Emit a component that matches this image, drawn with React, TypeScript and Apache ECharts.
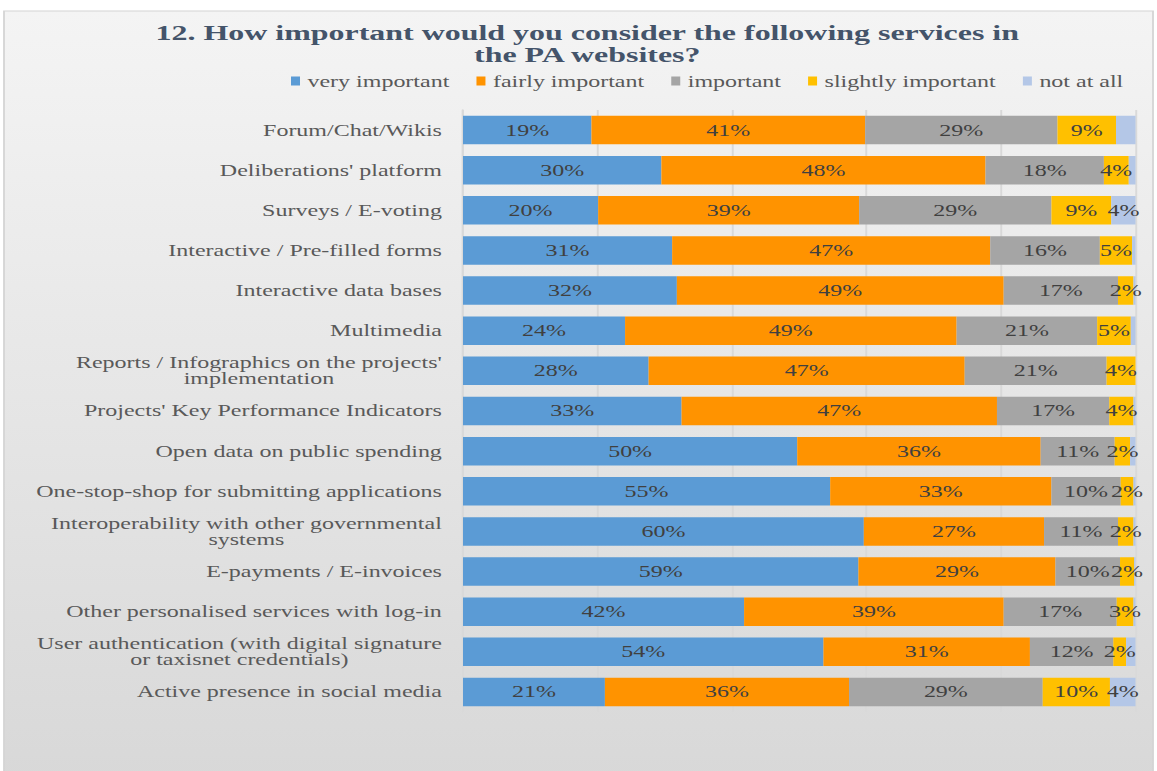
import React, { useEffect, useRef } from "react";
import * as echarts from "echarts";

const titleText = "12. How important would you consider the following services in\nthe PA websites?";

const categories = [
  "Forum/Chat/Wikis",
  "Deliberations' platform",
  "Surveys / E-voting",
  "Interactive / Pre-filled forms",
  "Interactive data bases",
  "Multimedia",
  "Reports / Infographics on the projects'\nimplementation",
  "Projects' Key Performance Indicators",
  "Open data on public spending",
  "One-stop-shop for submitting applications",
  "Interoperability with other governmental\nsystems",
  "E-payments / E-invoices",
  "Other personalised services with log-in",
  "User authentication (with digital signature\nor taxisnet credentials)",
  "Active presence in social media",
];

const seriesNames = ["very important", "fairly important", "important", "slightly important", "not at all"];

const veryImportant = [19.1, 29.5, 20.1, 31.1, 31.8, 24.1, 27.6, 32.5, 49.7, 54.6, 59.6, 58.8, 41.8, 53.6, 21.1];
const fairlyImportant = [40.7, 48.2, 38.8, 47.3, 48.6, 49.3, 47.0, 46.9, 36.2, 32.9, 26.8, 29.3, 38.6, 30.7, 36.3];
const important = [28.6, 17.6, 28.6, 16.3, 17.0, 20.9, 21.1, 16.7, 11.0, 10.3, 11.0, 9.6, 16.8, 12.4, 28.8];
const slightlyImportant = [8.7, 3.7, 8.9, 4.8, 2.3, 5.0, 4.3, 3.6, 2.3, 1.9, 2.3, 2.1, 2.5, 1.9, 10.0];
const notAtAll = [2.9, 1.0, 3.7, 0.5, 0.3, 0.7, 0.0, 0.3, 0.8, 0.3, 0.3, 0.2, 0.3, 1.4, 3.8];

const colors = ["#5B9BD5", "#FF9300", "#A5A5A5", "#FFC000", "#B4C7E7"];

const S = 1.5;
const W = 1157 / S;
const H = 771;
const FONT = '"Liberation Serif", "Times New Roman", serif';

export default function App() {
  const ref = useRef<HTMLDivElement>(null);

  useEffect(() => {
    if (!ref.current) return;
    const chart = echarts.init(ref.current, null, { renderer: "svg" });
    const allData = [veryImportant, fairlyImportant, important, slightlyImportant, notAtAll];

    const series = allData.map((d, i) => ({
      name: seriesNames[i],
      type: "bar",
      stack: "total",
      barCategoryGap: "29%",
      data: d,
      itemStyle: { color: colors[i] },
      label: {
        show: true,
        position: "inside",
        color: "#404040",
        fontFamily: FONT,
        fontSize: 16,
        formatter: (p: any) => {
          const v = p.value as number;
          if (i === 4 && v < 3.5) return "";
          if (v <= 0) return "";
          return Math.round(v) + "%";
        },
      },
    }));

    chart.setOption({
      animation: false,
      backgroundColor: "#ffffff",
      graphic: [
        {
          type: "rect",
          z: -10,
          silent: true,
          shape: { x: 4 / S, y: 11, width: (1153 - 4) / S, height: 770 },
          style: {
            fill: {
              type: "linear",
              x: 0,
              y: 0,
              x2: 0,
              y2: 1,
              colorStops: [
                { offset: 0, color: "#f4f4f4" },
                { offset: 1, color: "#d8d8d8" },
              ],
            },
            stroke: "#d4d4d4",
            lineWidth: 1.2,
          },
        },
        {
          type: "text",
          x: 391.5,
          y: 22,
          style: {
            text: titleText,
            fill: "#44546A",
            fontFamily: FONT,
            fontWeight: "bold",
            fontSize: 21.3,
            lineHeight: 22,
            align: "center",
            verticalAlign: "top",
          },
        },
      ],
      legend: {
        data: seriesNames,
        left: 291 / S,
        top: 72,
        padding: 0,
        icon: "rect",
        itemWidth: 6,
        itemHeight: 9,
        itemGap: 18,
        textStyle: { color: "#595959", fontFamily: FONT, fontSize: 16, lineHeight: 18 },
      },
      grid: {
        left: 463 / S,
        right: (1157 - 1136) / S,
        top: 110,
        bottom: 59,
        containLabel: false,
      },
      xAxis: {
        type: "value",
        min: 0,
        max: 100,
        interval: 20,
        axisLabel: { show: false },
        axisLine: { show: false },
        axisTick: { show: false },
        splitLine: { show: true, lineStyle: { color: "#d9d9d9", width: 1.3 } },
      },
      yAxis: {
        type: "category",
        data: categories,
        inverse: true,
        axisTick: { show: false },
        axisLine: { show: true, lineStyle: { color: "#d9d9d9", width: 1.3 } },
        axisLabel: {
          margin: 21 / S,
          align: "right",
          formatter: (v: string) =>
            v
              .split("\n")
              .map((l) => "{c|" + l + "}")
              .join("\n"),
          rich: {
            c: {
              align: "center",
              color: "#595959",
              fontFamily: FONT,
              fontSize: 16,
              lineHeight: 16,
            },
          },
        },
      },
      series,
    });

    return () => chart.dispose();
  }, []);

  return (
    <div
      ref={ref}
      style={{
        position: "absolute",
        left: 0,
        top: 0,
        width: W,
        height: H,
        transform: `scaleX(${S})`,
        transformOrigin: "0 0",
      }}
    />
  );
}
